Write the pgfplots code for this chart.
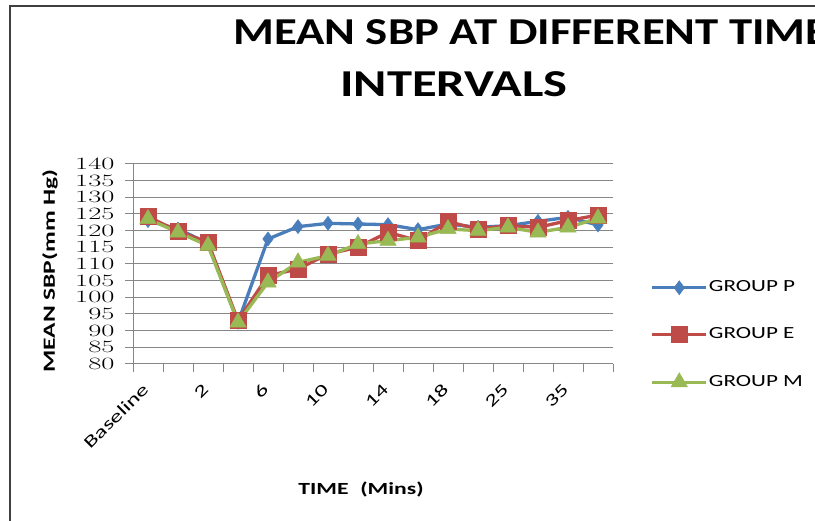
\documentclass[border=0pt]{standalone}
\usepackage{pgfplots}
\pgfplotsset{compat=1.18}
\usepackage{fontspec}
\setmainfont{Carlito}
\usepackage{graphicx}
\definecolor{cP}{HTML}{4A7EBB}
\definecolor{cE}{HTML}{BE4B48}
\definecolor{cM}{HTML}{98B954}
\definecolor{gridc}{HTML}{878787}
\newcommand{\tl}[1]{\scalebox{1.45}[1]{#1}}
\newcommand{\yl}[1]{\scalebox{1.65}[1]{#1}}
\begin{document}
\begin{tikzpicture}[x=1pt,y=1pt]
\useasboundingbox (0,0) rectangle (815,521);
\draw[line width=1.3pt, black!75] (10,0) -- (10,515) -- (815,515);
\node[anchor=base west, inner sep=0pt, font=\fontsize{38}{38}\selectfont\bfseries] at (233,476) {\scalebox{1.23}[1]{MEAN SBP AT DIFFERENT TIME}};
\node[anchor=base west, inner sep=0pt, font=\fontsize{38}{38}\selectfont\bfseries] at (340,424) {\scalebox{1.33}[1]{INTERVALS}};
\begin{axis}[
  at={(133pt,157pt)}, anchor=south west, scale only axis,
  width=480pt, height=200pt,
  xmin=-0.5, xmax=15.5, ymin=80, ymax=140,
  axis x line*=bottom, axis y line*=left,
  axis line style={gridc, line width=1pt},
  tick align=outside,
  tick style={gridc, line width=1pt},
  major tick length=8pt, minor tick length=8pt,
  ytick={80,85,...,140},
  yticklabel={\yl{\pgfmathprintnumber{\tick}}},
  yticklabel shift=7pt,
  xtick={0,2,...,14},
  xticklabels={\tl{Baseline},\tl{2},\tl{6},\tl{10},\tl{14},\tl{18},\tl{25},\tl{35}},
  xticklabel shift=12pt,
  minor xtick={-0.5,0.5,...,15.5},
  major x tick style={draw=none},
  x tick label style={rotate=45, anchor=east, font=\fontsize{17}{17}\selectfont},
  y tick label style={font=\fontsize{17}{17}\selectfont},
  ymajorgrids,
  major grid style={gridc, line width=1pt},
  xlabel={\scalebox{1.39}[1]{\bfseries TIME\enspace(Mins)}},
  ylabel={\scalebox{1.5}[1]{\bfseries MEAN SBP(mm Hg)}},
  xlabel style={at={(axis description cs:0.475,-0.625)}, anchor=center, font=\fontsize{17}{17}\selectfont},
  ylabel style={at={(axis description cs:-0.173,0.465)}, anchor=center, font=\fontsize{17}{17}\selectfont},
  legend style={at={(axis description cs:1.078,0.145)}, anchor=west, draw=none, fill=none,
    font=\fontsize{17}{17}\selectfont, row sep=29pt, inner sep=0pt,
    nodes={inner sep=1pt, text height=12pt, text depth=4pt}},
  legend cell align=left,
  legend image code/.code={\draw[mark repeat=2,mark phase=2] plot coordinates {(0pt,0pt)(27pt,0pt)(54pt,0pt)};},
]
\addplot[cP, line width=3.3pt, mark=diamond*, mark size=7pt, mark options={solid, fill=cP, line width=0.5pt}] coordinates {
(0,123) (1,120.5) (2,116.2) (3,92.5) (4,117.5) (5,121.2) (6,122.2) (7,122) (8,121.8) (9,120.3) (10,122) (11,121) (12,121.5) (13,122.8) (14,124) (15,121.7)};
\addlegendentry{\scalebox{1.36}[1]{GROUP P}}
\addplot[cE, line width=3.3pt, mark=square*, mark size=8pt, mark options={solid, fill=cE, line width=0.5pt}] coordinates {
(0,124.2) (1,119.8) (2,116.5) (3,93) (4,106.5) (5,108.5) (6,113) (7,115) (8,119.5) (9,117) (10,122.7) (11,120.5) (12,121.5) (13,121) (14,123) (15,124.7)};
\addlegendentry{\scalebox{1.36}[1]{GROUP E}}
\addplot[cM, line width=3.3pt, mark=triangle*, mark size=9.5pt, mark options={solid, fill=cM, line width=0.5pt}] coordinates {
(0,123.5) (1,119.5) (2,115.5) (3,92.5) (4,104.5) (5,110.5) (6,112.5) (7,116) (8,117) (9,118) (10,120.5) (11,120) (12,121) (13,119.5) (14,121) (15,123.7)};
\addlegendentry{\scalebox{1.36}[1]{GROUP M}}
\end{axis}
\end{tikzpicture}
\end{document}
